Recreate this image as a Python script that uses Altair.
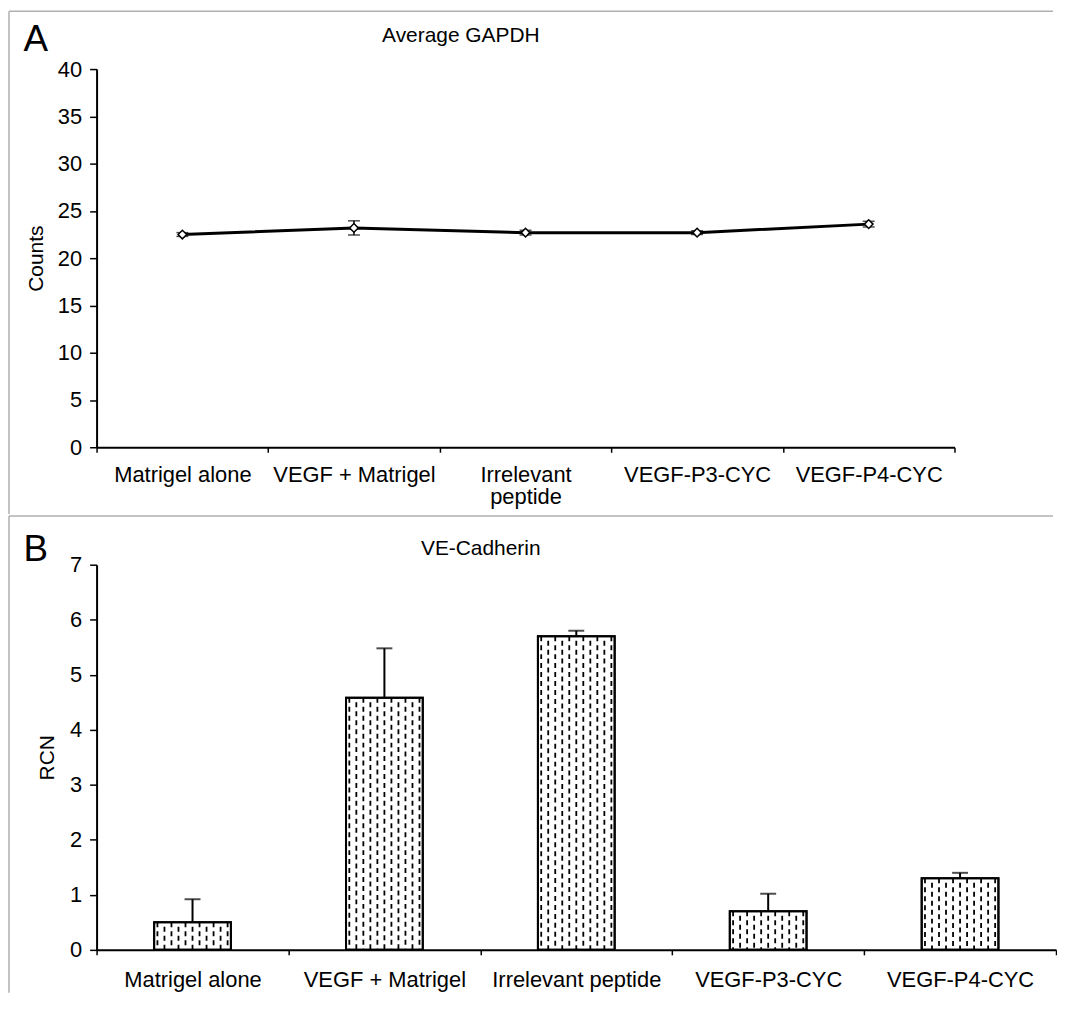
import altair as alt
import pandas as pd

# ---------------- data ----------------
categories = ["Matrigel alone", "VEGF + Matrigel", "Irrelevant peptide", "VEGF-P3-CYC", "VEGF-P4-CYC"]
gapdh_mean = [22.5, 23.2, 22.7, 22.7, 23.6]
gapdh_err = [0.2, 0.75, 0.25, 0.2, 0.3]
vecad_mean = [0.5, 4.58, 5.7, 0.7, 1.3]
vecad_err = [0.42, 0.9, 0.1, 0.32, 0.1]
gapdh_ticks = [0, 5, 10, 15, 20, 25, 30, 35, 40]
vecad_ticks = [0, 1, 2, 3, 4, 5, 6, 7]
hatch_columns = list(range(11))

FONT = "Liberation Sans"
WA, HA = 862, 380
WB, HB = 964, 387

dfA = pd.DataFrame({"cat": categories, "mean": gapdh_mean, "err": gapdh_err})
dfA["lo"] = dfA["mean"] - dfA["err"]
dfA["hi"] = dfA["mean"] + dfA["err"]

dfB = pd.DataFrame({"cat": categories, "mean": vecad_mean, "err": vecad_err})
dfB["hi"] = dfB["mean"] + dfB["err"]

one = pd.DataFrame({"k": [0]})
GRAY = "#b0b0b0"

# ---------------- panel A ----------------
xA = alt.X(
    "cat:N", sort=categories,
    scale=alt.Scale(type="band", paddingInner=0, paddingOuter=0),
    axis=alt.Axis(title=None, labelAngle=0, tickBand="extent", tickSize=5,
                  labelBaseline="middle", labelPadding=22, labelLineHeight=23,
                  labelExpr="datum.label == 'Irrelevant peptide' ? ['Irrelevant', 'peptide'] : datum.label"),
)
yA = alt.Y(
    "mean:Q",
    scale=alt.Scale(domain=[0, 40], nice=False),
    axis=alt.Axis(values=gapdh_ticks, format="d", title="Counts", tickSize=7, labelPadding=8, titlePadding=11),
)

baseA = alt.Chart(dfA)
lineA = baseA.mark_line(color="black", strokeWidth=3).encode(x=xA, y=yA)
errA = baseA.mark_rule(color="black", strokeWidth=1.5).encode(x=xA, y="lo:Q", y2="hi:Q")
capLoA = baseA.mark_tick(color="black", size=12, thickness=1.5).encode(x=xA, y="lo:Q")
capHiA = baseA.mark_tick(color="black", size=12, thickness=1.5).encode(x=xA, y="hi:Q")
ptsA = baseA.mark_point(shape="diamond", filled=True, fill="white", stroke="black",
                        strokeWidth=1.5, size=75, opacity=1).encode(x=xA, y=yA)

frameTopA = alt.Chart(one).mark_rule(color=GRAY, strokeWidth=1.5).encode(
    x=alt.value(-88), x2=alt.value(961), y=alt.value(-58))
frameLeftA = alt.Chart(one).mark_rule(color=GRAY, strokeWidth=1.5).encode(
    x=alt.value(-88), y=alt.value(-58), y2=alt.value(447))
anchorA = alt.Chart(one).mark_rule(color=GRAY, strokeWidth=1.5, strokeOpacity=0).encode(
    x=alt.value(-88), x2=alt.value(961), y=alt.value(447))
letterA = alt.Chart(one).mark_text(text="A", font=FONT, fontSize=37, align="center",
                                   baseline="alphabetic", color="black").encode(
    x=alt.value(-61), y=alt.value(-18))
titleA = alt.Chart(one).mark_text(text="Average GAPDH", font=FONT, fontSize=21, align="center",
                                  baseline="alphabetic", color="black").encode(
    x=alt.value(366), y=alt.value(-27))

panelA = alt.layer(
    frameTopA, frameLeftA, anchorA, lineA, errA, capLoA, capHiA, ptsA, letterA, titleA
).properties(width=WA, height=HA)

# ---------------- panel B ----------------
xB = alt.X(
    "cat:N", sort=categories,
    scale=alt.Scale(type="band", paddingInner=0, paddingOuter=0),
    axis=alt.Axis(title=None, labelAngle=0, tickBand="extent", tickSize=5,
                  labelBaseline="middle", labelPadding=25),
)
yB = alt.Y(
    "mean:Q",
    scale=alt.Scale(domain=[0, 7], nice=False),
    axis=alt.Axis(values=vecad_ticks, format="d", title="RCN", tickSize=7, labelPadding=8, titlePadding=12),
)

baseB = alt.Chart(dfB)
barsB = baseB.mark_bar(fill="white", stroke="black", strokeWidth=2,
                       width=alt.RelativeBandSize(0.4)).encode(x=xB, y=yB)

hatch_layers = []
for j in hatch_columns:
    hatch_layers.append(
        baseB.mark_rule(
            color="black", strokeWidth=1.8, strokeDash=[5, 4],
            strokeDashOffset=(4.5 if j % 2 else 0),
            xOffset=(j - 5) * 7.05,
        ).encode(x=xB, y=alt.Y("mean:Q"), y2=alt.datum(0))
    )

outlineB = baseB.mark_bar(fill="transparent", stroke="black", strokeWidth=2,
                          width=alt.RelativeBandSize(0.4)).encode(x=xB, y=yB)
errB = baseB.mark_rule(color="black", strokeWidth=2).encode(x=xB, y="mean:Q", y2="hi:Q")
capB = baseB.mark_tick(color="black", size=16, thickness=2).encode(x=xB, y="hi:Q")

frameDivB = alt.Chart(one).mark_rule(color=GRAY, strokeWidth=1.5).encode(
    x=alt.value(-88), x2=alt.value(961), y=alt.value(-49))
frameLeftB = alt.Chart(one).mark_rule(color=GRAY, strokeWidth=1.5).encode(
    x=alt.value(-88), y=alt.value(-49), y2=alt.value(430))
letterB = alt.Chart(one).mark_text(text="B", font=FONT, fontSize=37, align="center",
                                   baseline="alphabetic", color="black").encode(
    x=alt.value(-61), y=alt.value(-4))
titleB = alt.Chart(one).mark_text(text="VE-Cadherin", font=FONT, fontSize=21, align="center",
                                  baseline="alphabetic", color="black").encode(
    x=alt.value(386), y=alt.value(-10))

panelB = alt.layer(
    frameDivB, frameLeftB, barsB, *hatch_layers, outlineB, errB, capB, letterB, titleB
).properties(width=WB, height=HB)

chart = alt.vconcat(panelA, panelB, spacing=0).properties(
    padding=0, background="white"
).configure_view(stroke=None).configure_axis(
    grid=False,
    domainColor="black", domainWidth=2,
    tickColor="black", tickWidth=1.5,
    labelColor="black", labelFont=FONT, labelFontSize=22,
    titleColor="black", titleFont=FONT, titleFontSize=21, titleFontWeight="normal",
)

chart.save("out.html", embed_options={"renderer": "svg", "actions": False})
